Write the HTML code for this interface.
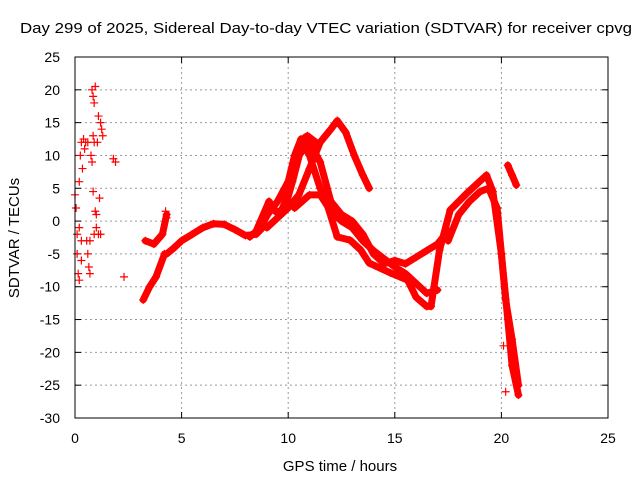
<!DOCTYPE html>
<html><head><meta charset="utf-8"><style>
body{margin:0;background:#fff}
svg{display:block;font-family:"Liberation Sans",sans-serif}
</style></head><body>
<svg id="chart" width="640" height="480" viewBox="0 0 640 480">
<rect width="640" height="480" fill="#fff"/>
<text x="20" y="33" font-size="15" textLength="612" lengthAdjust="spacingAndGlyphs">Day 299 of 2025, Sidereal Day-to-day VTEC variation (SDTVAR) for receiver cpvg</text>
<text x="340" y="471" font-size="15" text-anchor="middle">GPS time / hours</text>
<text transform="translate(19,238) rotate(-90)" font-size="15" text-anchor="middle">SDTVAR / TECUs</text>
<g id="grid"></g><g id="ticks"></g><g id="marks"></g>
<rect x="75" y="57" width="533" height="361" fill="none" stroke="#000" stroke-width="1"/>
</svg>
<script>
const xTicks=[0,5,10,15,20,25];
const yTicks=[25,20,15,10,5,0,-5,-10,-15,-20,-25,-30];
const trackA=[[4.3,-5],[4.6,-4.2],[5,-3],[5.5,-2],[6,-1],[6.5,-0.4],[7,-0.5],[7.5,-1.3],[8,-2.2],[8.5,-2],[8.8,-1]];
const trackB=[[8.8,0],[9.5,3],[10,6],[10.3,10],[10.6,12.5],[11,10],[11.5,5],[11.8,2.8],[12.3,-2.4],[12.9,-2.9],[13.4,-4.4],[13.8,-6.4],[14.8,-7.9],[15.6,-9],[16,-11.6],[16.5,-13],[16.7,-13],[17.1,-4.4],[17.6,1.7],[18.4,4.3],[19.3,7],[19.6,4.5],[20,-5],[20.2,-12],[20.5,-18],[20.8,-25]];
const trackB2=[[8.2,-2.4],[8.7,-1],[9.2,2],[9.6,1],[10,4],[10.4,9],[10.8,12.8],[11.2,11]];
const trackB3=[[8.5,-1.5],[9.1,3],[9.4,1.5],[9.8,1.5],[10.2,6],[10.6,11],[10.9,13],[11.3,12]];
const trackC=[[9,-1],[10,2],[10.5,4],[11,8],[11.5,12],[12,14],[12.3,15.3],[12.7,13.5],[13.1,10],[13.5,7],[13.8,5]];
const trackD=[[10,5],[10.5,10],[11,12],[11.5,9],[12,3],[12.5,1],[13,0],[13.5,-2],[14,-5],[14.5,-6.5],[15,-6],[15.5,-6.5],[16,-5.5],[16.5,-4.5],[17,-3.5],[17.5,-1.5]];
const trackE=[[10.3,2],[11,4],[11.5,4],[12,1.5],[12.5,0],[13,-1],[13.5,-3],[14,-4.5],[15,-7],[15.5,-8],[16,-9.5],[16.5,-11],[17,-10.5]];
const trackF=[[17.5,-3],[18,1],[18.5,3],[19,4.5],[19.4,5],[19.8,2],[20,-5],[20.3,-15],[20.5,-22],[20.8,-26.5]];
const trackG=[[20.3,8.5],[20.5,7],[20.7,5.5]];
const trackH=[[3.2,-12],[3.5,-10],[3.8,-8.5],[4.2,-5]];
const trackI=[[3.3,-3],[3.7,-3.5],[4.1,-2],[4.3,1]];
const scatter=[[0,4],[0.05,2],[0.1,-2],[0.1,-5],[0.15,-8],[0.2,-9],[0.2,6],[0.25,10],[0.3,12],[0.3,-6],[0.35,8],[0.4,12.5],[0.45,11],[0.5,12],[0.55,-3],[0.6,-5],[0.6,12],[0.65,-7],[0.7,-3],[0.75,10],[0.8,9],[0.85,13],[0.9,12],[0.8,20],[0.85,19],[0.9,18],[0.95,20.5],[0.85,4.5],[0.9,-2],[1,1],[1,-1],[1.05,12],[1.1,-2],[1.15,3.5],[1.1,16],[1.2,15],[1.25,14],[1.3,13],[1.2,-2],[1.8,9.5],[1.9,9],[2.3,-8.5],[0.2,-1],[0.3,-3],[0.7,-8],[0.95,1.5],[20.2,-26],[20.1,-19],[20.6,-21],[4.25,1.5],[4.3,0.5]];
const X0=75,XW=533,Y0=57,YH=361;
const xs=v=>X0+v/25*XW, ys=v=>Y0+(25-v)/55*YH;
const NS="http://www.w3.org/2000/svg";
const grid=document.getElementById('grid'),ticks=document.getElementById('ticks'),marks=document.getElementById('marks');
function mk(t,a,p){const e=document.createElementNS(NS,t);for(const k in a)e.setAttribute(k,a[k]);p.appendChild(e);return e;}
xTicks.forEach(v=>{const x=xs(v);
 if(v>0&&v<25){const g=mk('line',{x1:x,x2:x,y1:Y0,y2:Y0+YH,stroke:'#999','stroke-dasharray':'2,3'},grid);
 
 }
 const t=mk('text',{x:x,y:443,'font-size':14,'text-anchor':'middle'},ticks);t.textContent=v;
 
 
 mk('line',{x1:x,x2:x,y1:Y0+YH,y2:Y0+YH-6,stroke:'#000'},ticks);mk('line',{x1:x,x2:x,y1:Y0,y2:Y0+6,stroke:'#000'},ticks);});
yTicks.forEach(v=>{const y=ys(v);
 if(v<25&&v>-30){const g=mk('line',{x1:X0,x2:X0+XW,y1:y,y2:y,stroke:'#999','stroke-dasharray':'2,3'},grid);
 
 }
 const t=mk('text',{x:60,y:y+5,'font-size':14,'text-anchor':'end'},ticks);t.textContent=v;
 
 
 mk('line',{x1:X0,x2:X0+6,y1:y,y2:y,stroke:'#000'},ticks);mk('line',{x1:X0+XW,x2:X0+XW-6,y1:y,y2:y,stroke:'#000'},ticks);});
function plus(p){const x=xs(p[0]),y=ys(p[1]);
 const e=mk('path',{d:`M${x-4} ${y}H${x+4}M${x} ${y-4}V${y+4}`,stroke:'#f00','stroke-width':1.2},marks);
 
 }
[trackA,trackB,trackB2,trackB3,trackC,trackD,trackE,trackF,trackG,trackH,trackI].forEach((tr,i)=>{
 const pl=mk('polyline',{points:tr.map(p=>xs(p[0])+','+ys(p[1])).join(' '),fill:'none',stroke:'#f00','stroke-width':7,'stroke-linejoin':'round','stroke-linecap':'round'},marks);
 
 
 tr.forEach(plus);});
scatter.forEach(plus);
</script>
</body></html>
